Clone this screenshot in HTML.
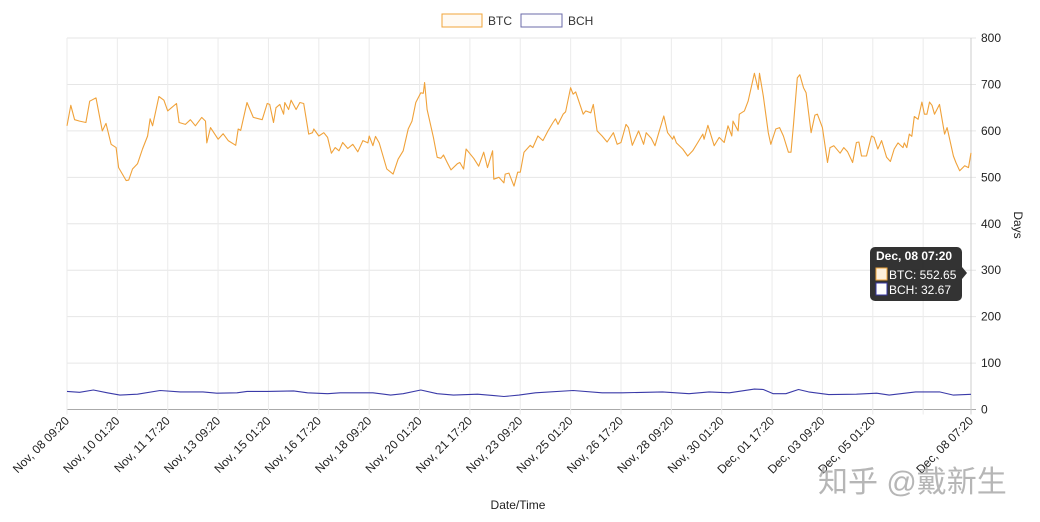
<!DOCTYPE html>
<html><head><meta charset="utf-8"><style>
html,body{margin:0;padding:0;background:#fff;}
svg{display:block;font-family:"Liberation Sans",Arial,sans-serif;}
</style></head><body>
<svg id="chart" width="1040" height="522" viewBox="0 0 1040 522" xmlns="http://www.w3.org/2000/svg">
<g id="grid"></g>
<g id="series"></g>
<g id="axes"></g>
<g>
 <g><rect x="442" y="14" width="40" height="13" fill="#fffaf3" stroke="#f0a43a" stroke-width="1"/><text x="488" y="25" font-size="12" fill="#333">BTC</text></g>
 <g><rect x="521" y="14" width="41" height="13" fill="#fdfdff" stroke="#6a6aa8" stroke-width="1"/><text x="568" y="25" font-size="12" fill="#333">BCH</text></g>
</g>
<text x="518" y="509" font-size="12" text-anchor="middle" fill="#222">Date/Time</text>
<text transform="translate(1014,225) rotate(90)" font-size="12" text-anchor="middle" fill="#222">Days</text>
<text x="818" y="492" font-size="30" fill="#aaa" opacity="0.85" style="font-family:'Liberation Sans','Noto Sans CJK SC',sans-serif">知乎 @戴新生</text>
<g>
 <rect x="870" y="247" width="92" height="54" rx="5" fill="#222" opacity="0.92"/>
 <path d="M962,267 L967,273 L962,279 Z" fill="#222" opacity="0.92"/>
 <text x="876" y="260" font-size="12" font-weight="bold" fill="#fff">Dec, 08 07:20</text>
 <rect x="876" y="268" width="11" height="12" fill="#fdf0dc" stroke="#f0a43a"/>
 <text x="889" y="279" font-size="12" fill="#fff">BTC: 552.65</text>
 <rect x="876" y="283" width="11" height="12" fill="#fff" stroke="#3535a0"/>
 <text x="889" y="294" font-size="12" fill="#fff">BCH: 32.67</text>
</g>
</svg>
<script>
const btcHours=[0,3,6,10,15,18,23,28,31,35,39,41,47,49,52,56,60,64,66,68,73,77,80,83,87,89,94,98,102,107,110,111,114,120,124,128,134,136,138,143,148,155,159,161,164,166,169,172,173,176,178,182,185,188,192,195,196,200,204,207,210,213,216,219,223,227,231,235,239,240,243,245,248,254,259,263,267,271,274,277,281,283,284,286,291,294,297,299,302,305,310,312,315,317,323,327,331,334,338,339,343,347,348,351,355,358,360,363,368,370,374,378,382,386,388,390,394,396,400,402,404,410,412,416,418,421,425,429,434,437,440,444,446,449,454,458,460,464,467,470,474,477,481,482,484,489,493,497,501,505,506,509,514,518,522,525,528,529,533,534,538,541,544,546,549,550,553,557,559,563,566,569,573,575,577,580,582,585,587,591,594,596,600,604,606,609,614,617,620,624,627,629,631,635,639,641,644,647,651,654,657,660,664,665,667,669,671,673,676,679,681,683,685,687,689,693,697,699,704,706,709,713,716,718];
const btcValues=[611,655,624,621,618,664,671,600,616,571,564,521,493,494,518,529,561,589,626,611,674,666,643,650,659,618,614,624,611,629,621,574,607,582,594,579,569,604,601,661,629,624,659,657,618,650,657,636,661,646,666,646,661,659,593,596,604,589,596,586,552,564,557,575,562,571,555,579,574,589,568,588,574,518,507,539,557,604,621,661,682,681,704,646,586,543,541,548,532,516,529,532,518,561,541,524,554,521,557,496,500,488,507,509,481,511,511,554,569,564,589,579,600,618,626,614,636,641,693,679,684,636,643,639,657,600,589,576,596,571,575,614,607,569,600,571,596,584,568,596,632,596,582,589,574,561,546,557,575,593,582,612,568,586,575,611,589,621,600,636,643,664,700,724,689,724,675,596,571,604,607,589,554,554,614,714,721,693,682,596,634,636,607,532,564,568,552,564,555,532,575,576,546,546,589,586,561,579,543,534,561,574,564,574,564,593,588,631,625,662,636,636,662,655,636,657,593,607,546,532,514,525,521,552.65];
const bchHours=[0,10,21,32,42,56,74,90,108,119,135,143,159,180,191,207,217,243,257,267,281,294,307,326,339,347,359,372,402,425,441,473,494,510,526,546,553,561,571,581,589,605,627,643,653,674,693,704,718];
const bchValues=[39,37,42,36,31,33,41,38,38,35,36,39,39,40,36,34,36,36,31,34,42,34,31,33,30,28,31,36,41,36,36,38,34,38,36,44,43,34,34,43,38,32,33,35,31,38,38,31,32.67];
const yTicks=[0,100,200,300,400,500,600,700,800];
const xTickHours=[0,40,80,120,160,200,240,280,320,360,400,440,480,520,560,600,640,680,718];
const xTickLabels=["Nov, 08 09:20","Nov, 10 01:20","Nov, 11 17:20","Nov, 13 09:20","Nov, 15 01:20","Nov, 16 17:20","Nov, 18 09:20","Nov, 20 01:20","Nov, 21 17:20","Nov, 23 09:20","Nov, 25 01:20","Nov, 26 17:20","Nov, 28 09:20","Nov, 30 01:20","Dec, 01 17:20","Dec, 03 09:20","Dec, 05 01:20","","Dec, 08 07:20"];

const X0=67,X1=971,Y0=409.5,Y1=38,TMAX=718,VMAX=800;
const xs=h=>X0+(X1-X0)*h/TMAX;
const ys=v=>Y0-(Y0-Y1)*v/VMAX;
const NS="http://www.w3.org/2000/svg";
function mk(tag,attrs,parent){const e=document.createElementNS(NS,tag);for(const k in attrs)e.setAttribute(k,attrs[k]);parent.appendChild(e);return e;}
const grid=document.getElementById('grid'),axes=document.getElementById('axes'),series=document.getElementById('series');
yTicks.forEach(v=>{
  const l=mk('line',{x1:X0,x2:X1+5,y1:ys(v),y2:ys(v),stroke:v===0?'#aaa':'#e6e6e6','stroke-width':1},grid);
  
  
  const t=mk('text',{x:X1+10,y:ys(v)+4,'font-size':12,fill:'#222'},axes);
  t.textContent=v;
  
  
});
xTickHours.forEach((h,i)=>{
  const x=xs(h);
  const l=mk('line',{x1:x,x2:x,y1:Y1,y2:Y0+5,stroke:i===xTickHours.length-1?'#ccc':'#ebebeb','stroke-width':1},grid);
  
  
  if(xTickLabels[i]){
    const t=mk('text',{transform:`translate(${x+3},${Y0+12}) rotate(-45)`,'font-size':12,'text-anchor':'end',fill:'#222'},axes);
    t.textContent=xTickLabels[i];
    
    
  }
});
function line(hours,vals,color,name){
  const d=hours.map((h,i)=>(i?'L':'M')+xs(h).toFixed(1)+','+ys(vals[i]).toFixed(1)).join(' ');
  const p=mk('path',{d:d,fill:'none',stroke:color,'stroke-width':1.1,'stroke-linejoin':'round'},series);
  
  
}
line(btcHours,btcValues,'#f0a23a','btc-line');
line(bchHours,bchValues,'#3a3aa8','bch-line');
</script>
</body></html>
